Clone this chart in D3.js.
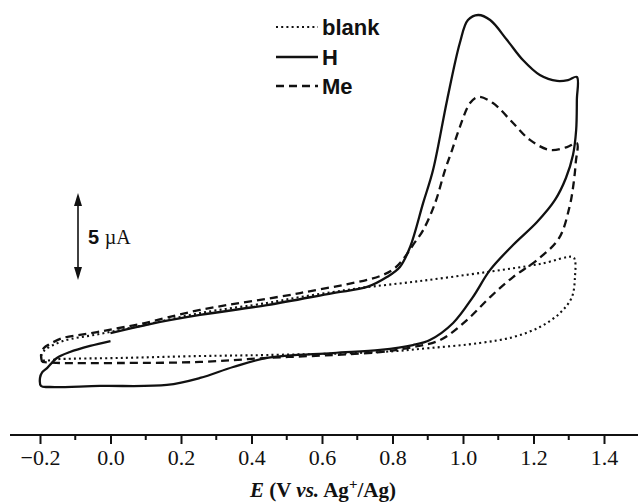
<!DOCTYPE html>
<html>
<head>
<meta charset="utf-8">
<script src="https://cdn.jsdelivr.net/npm/d3@7"></script>
<style>
  body { margin: 0; background: #fff; }
  svg { display: block; }
</style>
</head>
<body>
<svg id="chart" width="638" height="504"></svg>
<script>
// Cyclic voltammograms: potential E (V vs. Ag+/Ag) and current I (µA, relative offset)

// blank electrolyte (dotted)
const blankE = [-0.197, -0.186, -0.135, -0.030, 0.084, 0.254, 0.444, 0.538, 0.631, 0.708, 0.878, 1.068, 1.218, 1.312,
                1.318, 1.318, 1.309, 1.275, 1.218, 1.142, 1.048, 0.906, 0.765, 0.444, 0.254, 0.027, -0.143, -0.194, -0.197];
const blankI = [-0.06, 0.29, 0.80, 1.21, 1.67, 2.41, 2.99, 3.33, 3.62, 3.85, 4.25, 4.77, 5.23, 5.63,
                5.40, 4.60, 3.33, 2.41, 1.61, 1.03, 0.69, 0.40, 0.17, 0.00, -0.06, -0.17, -0.23, -0.29, -0.06];

// H (solid)
const hE = [0.000, 0.112, 0.254, 0.444, 0.631, 0.728, 0.784, 0.821, 0.850, 0.887, 0.915, 0.955, 0.991, 1.014, 1.043,
            1.077, 1.125, 1.170, 1.218, 1.267, 1.298, 1.323,
            1.323, 1.321, 1.312, 1.292, 1.261, 1.210, 1.142, 1.077, 1.028, 0.972, 0.906, 0.858, 0.765, 0.631,
            0.444, 0.348, 0.254, 0.160, -0.030, -0.172, -0.197, -0.200, -0.194, -0.180, -0.152, -0.115, -0.058, 0.000];
const hI = [1.26, 1.78, 2.30, 2.87, 3.56, 3.91, 4.48, 5.06, 6.21, 8.74, 10.63, 14.66, 17.93, 19.25, 19.54,
            19.25, 18.10, 16.95, 16.09, 15.75, 15.80, 15.98,
            14.66, 12.93, 11.49, 10.17, 8.91, 7.64, 6.32, 4.89, 3.33, 1.84, 0.86, 0.57, 0.29, 0.11,
            -0.17, -0.69, -1.32, -1.72, -1.78, -1.84, -1.78, -1.32, -1.00, -0.75, -0.17, 0.17, 0.52, 0.80];

// Me (dashed)
const meE = [-0.194, -0.197, -0.189, -0.172, -0.135, -0.087, -0.038, 0.007, 0.084, 0.254, 0.538, 0.765, 0.807, 0.835,
             0.858, 0.887, 0.921, 0.949, 0.969, 0.991, 1.020, 1.043, 1.085, 1.142, 1.190, 1.247, 1.295, 1.323,
             1.320, 1.314, 1.302, 1.272, 1.210, 1.142, 1.077, 1.011, 0.935, 0.858, 0.765, 0.631, 0.444, 0.254,
             0.027, -0.143, -0.194];
const meI = [-0.40, 0.00, 0.40, 0.63, 0.98, 1.15, 1.32, 1.49, 1.78, 2.59, 3.56, 4.54, 5.00, 5.63,
             6.32, 7.18, 8.74, 10.63, 11.78, 13.10, 14.48, 14.83, 14.48, 13.33, 12.36, 11.78, 11.95, 12.18,
             11.10, 9.90, 8.50, 6.70, 5.46, 4.48, 3.33, 2.01, 0.86, 0.46, 0.17, 0.00, -0.17, -0.40,
             -0.46, -0.46, -0.40];

const xTicks = [-0.2, 0.0, 0.2, 0.4, 0.6, 0.8, 1.0, 1.2, 1.4];
const xMinorTicks = [-0.1, 0.1, 0.3, 0.5, 0.7, 0.9, 1.1, 1.3];
const legendLabels = ["blank", "H", "Me"];
const scaleBarValue = 5; // µA

const svg = d3.select("#chart");
const x = d3.scaleLinear().domain([-0.2, 1.4]).range([40, 604]);
const y = d3.scaleLinear().domain([0, 5]).range([355, 268]);

const styles = {
  blank: { dash: "2,3.2", width: 2.1 },
  H:     { dash: null, width: 2.3 },
  Me:    { dash: "8,5", width: 2.3 }
};

const series = [
  { name: "blank", E: blankE, I: blankI },
  { name: "H", E: hE, I: hI },
  { name: "Me", E: meE, I: meI }
];

const line = d3.line()
  .x(d => x(d[0]))
  .y(d => y(d[1]))
  .curve(d3.curveCatmullRom.alpha(0.5));

svg.append("g").selectAll("path")
  .data(series)
  .join("path")
  .attr("d", s => line(s.E.map((e, i) => [e, s.I[i]])))
  .attr("fill", "none")
  .attr("stroke", "#111")
  .attr("stroke-width", s => styles[s.name].width)
  .attr("stroke-dasharray", s => styles[s.name].dash)
  .attr("stroke-linejoin", "round");

// x axis
const axisY = 435;
const gx = svg.append("g").attr("transform", `translate(0,${axisY})`);
gx.call(d3.axisBottom(x)
  .tickValues(xTicks)
  .tickSize(9)
  .tickSizeOuter(0)
  .tickPadding(5)
  .tickFormat(d3.format(".1f")));
gx.select(".domain").remove();
gx.selectAll(".tick line").attr("stroke", "#111").attr("stroke-width", 2);
gx.selectAll(".tick text")
  .attr("fill", "#111")
  .style("font-family", "'Liberation Serif', 'Times New Roman', serif")
  .style("font-size", "22px");

gx.append("g").selectAll("line")
  .data(xMinorTicks)
  .join("line")
  .attr("x1", d => x(d)).attr("x2", d => x(d))
  .attr("y1", 0).attr("y2", 5)
  .attr("stroke", "#111").attr("stroke-width", 2);

gx.append("line")
  .attr("x1", 10).attr("x2", 638)
  .attr("y1", 0).attr("y2", 0)
  .attr("stroke", "#111").attr("stroke-width", 2.2);

// axis title
const title = svg.append("text")
  .attr("x", 323).attr("y", 497)
  .attr("text-anchor", "middle")
  .attr("fill", "#111")
  .style("font-family", "'Liberation Serif', 'Times New Roman', serif")
  .style("font-size", "21px")
  .style("font-weight", "bold");
title.append("tspan").style("font-style", "italic").text("E");
title.append("tspan").text(" (V ");
title.append("tspan").style("font-style", "italic").text("vs.");
title.append("tspan").text(" Ag");
title.append("tspan").attr("dy", -8).style("font-size", "15px").text("+");
title.append("tspan").attr("dy", 8).text("/Ag)");

// legend
const legendX1 = 276, legendX2 = 318, legendRowY = [27, 57, 86];
const lg = svg.append("g");
legendLabels.forEach((name, i) => {
  lg.append("line")
    .attr("x1", legendX1).attr("x2", legendX2)
    .attr("y1", legendRowY[i]).attr("y2", legendRowY[i])
    .attr("stroke", "#111")
    .attr("stroke-width", styles[name].width)
    .attr("stroke-dasharray", styles[name].dash);
  lg.append("text")
    .attr("x", legendX2 + 4).attr("y", legendRowY[i] + 8)
    .attr("fill", "#111")
    .style("font-family", "'Liberation Sans', Arial, sans-serif")
    .style("font-size", "22px")
    .style("font-weight", "bold")
    .text(name);
});

// current scale bar
const barX = 78, barTop = 193;
const barLen = y(0) - y(scaleBarValue);
const bar = svg.append("g");
bar.append("line")
  .attr("x1", barX).attr("x2", barX)
  .attr("y1", barTop + 6).attr("y2", barTop + barLen - 6)
  .attr("stroke", "#111").attr("stroke-width", 1.6);
bar.append("path")
  .attr("d", `M${barX},${barTop} L${barX - 4},${barTop + 13} L${barX + 4},${barTop + 13} Z`)
  .attr("fill", "#111");
bar.append("path")
  .attr("d", `M${barX},${barTop + barLen} L${barX - 4},${barTop + barLen - 13} L${barX + 4},${barTop + barLen - 13} Z`)
  .attr("fill", "#111");
const barText = bar.append("text")
  .attr("x", barX + 10).attr("y", barTop + barLen / 2 + 7)
  .attr("fill", "#111");
barText.append("tspan")
  .style("font-family", "'Liberation Sans', Arial, sans-serif")
  .style("font-weight", "bold")
  .style("font-size", "20px")
  .text(scaleBarValue + " ");
barText.append("tspan")
  .style("font-family", "'Liberation Serif', 'Times New Roman', serif")
  .style("font-size", "20px")
  .text("µA");
</script>
</body>
</html>
